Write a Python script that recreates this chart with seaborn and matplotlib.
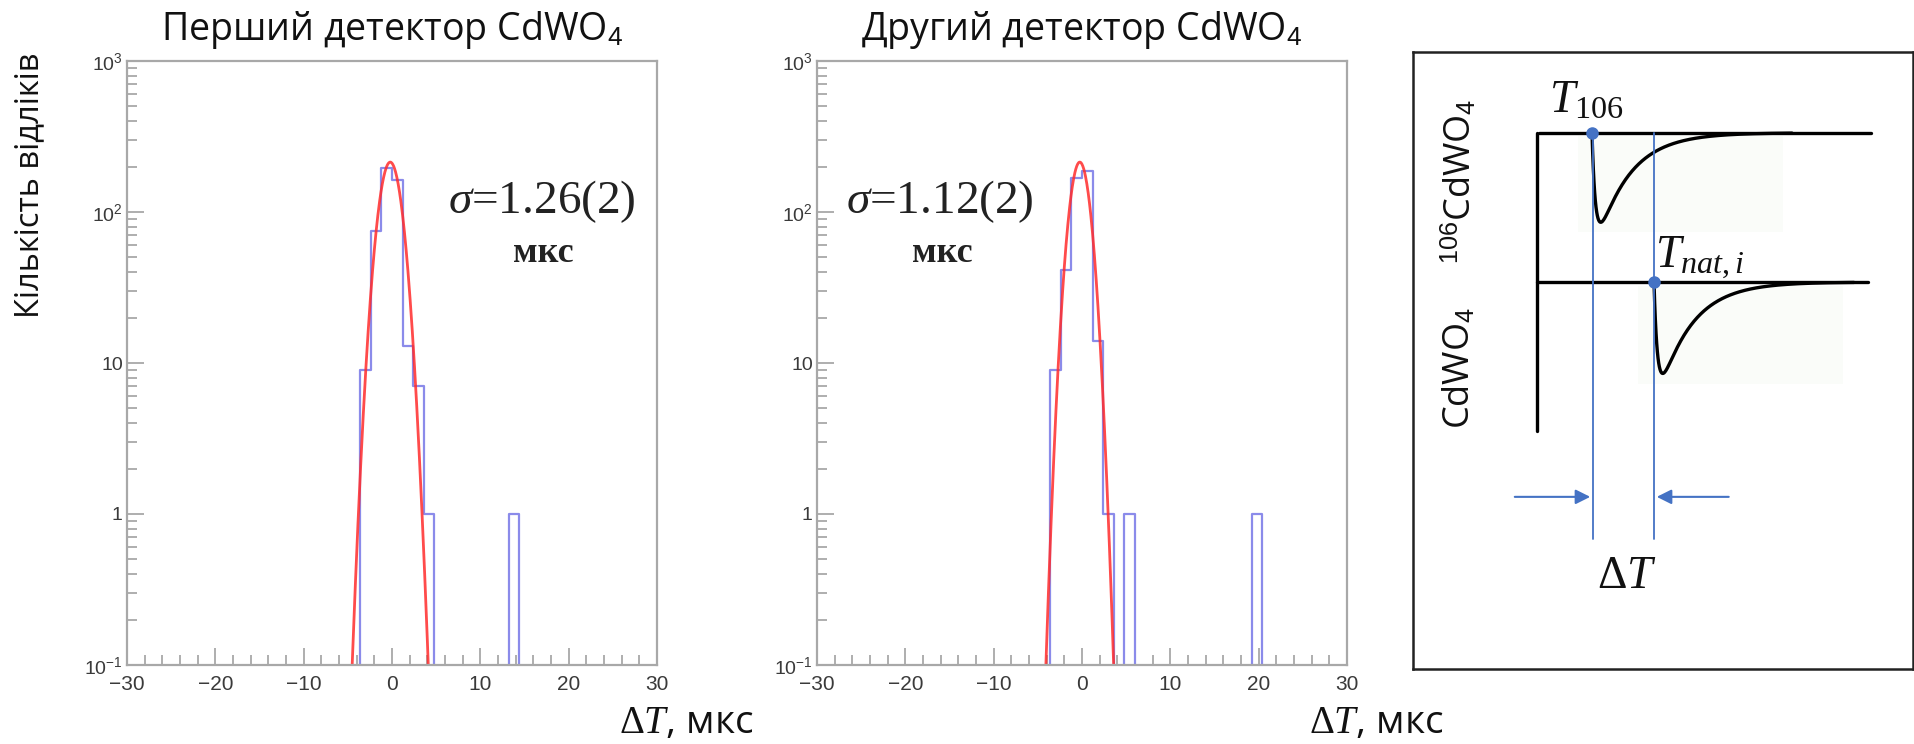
import numpy as np
import pandas as pd
import matplotlib
matplotlib.use("Agg")
import matplotlib.pyplot as plt
import seaborn as sns
from matplotlib.patches import Rectangle
from matplotlib.ticker import FixedLocator, NullFormatter, FixedFormatter

# ---------------- data ----------------
bin_width = 1.2
x_min, x_max = -30, 30
det1_bin_left = [-3.6, -2.4, -1.2, 0.0, 1.2, 2.4, 3.6, 13.2]
det1_counts = [9, 75, 195, 162, 13, 7, 1, 1]
det2_bin_left = [-3.6, -2.4, -1.2, 0.0, 1.2, 2.4, 4.8, 19.2]
det2_counts = [9, 41, 167, 187, 14, 1, 1, 1]
fit1_amp, fit1_mu, fit1_sigma = 214, -0.2, 1.1
fit2_amp, fit2_mu, fit2_sigma = 214, -0.25, 0.98
titles = ["Перший детектор CdWO$_\\mathsf{4}$", "Другий детектор CdWO$_\\mathsf{4}$"]
sigma_labels = ["$\\sigma$=1.26(2)", "$\\sigma$=1.12(2)"]
x_ticks = [-30, -20, -10, 0, 10, 20, 30]
y_ticks = [0.1, 1, 10, 100, 1000]
y_ticklabels = ["$\\mathsf{10^{-1}}$", "1", "10", "$\\mathsf{10^{2}}$", "$\\mathsf{10^{3}}$"]

# ---------------- style ----------------
sns.set_theme(style="white")
plt.rcParams["font.family"] = ["Open Sans", "DejaVu Sans"]
plt.rcParams["mathtext.fontset"] = "custom"
plt.rcParams["mathtext.rm"] = "Liberation Serif"
plt.rcParams["mathtext.it"] = "Liberation Serif:italic"
plt.rcParams["mathtext.bf"] = "Liberation Serif:bold"
plt.rcParams["mathtext.sf"] = "Liberation Sans"
plt.rcParams["axes.unicode_minus"] = True

W, H = 1915, 744
fig = plt.figure(figsize=(W / 100, H / 100), dpi=100)
fig.patch.set_facecolor("white")


def fx(x):
    return x / W


def fy(y):
    return 1 - y / H


FRAME = "#a8a8a8"
HIST = "#8b8bea"
FIT = "#ff2b2b"
TICKLAB = "#3a3a3a"

n_bins = int(round((x_max - x_min) / bin_width))

panels = [
    (127, det1_bin_left, det1_counts, (fit1_amp, fit1_mu, fit1_sigma), 542, 543),
    (817, det2_bin_left, det2_counts, (fit2_amp, fit2_mu, fit2_sigma), 940, 942),
]

for i, (x0, lefts, counts, fit, sx, mx) in enumerate(panels):
    ax = fig.add_axes([fx(x0), fy(665), 530 / W, 604 / H])
    df = pd.DataFrame({"x": np.array(lefts, dtype=float) + bin_width / 2,
                       "w": np.array(counts, dtype=float)})
    sns.histplot(data=df, x="x", weights="w", bins=n_bins, binrange=(x_min, x_max),
                 element="step", fill=False, color=HIST, linewidth=1.6, ax=ax)
    xs = np.linspace(-6, 6, 241)
    amp, mu, sg = fit
    ys = amp * np.exp(-0.5 * ((xs - mu) / sg) ** 2)
    sns.lineplot(x=xs, y=ys, color=FIT, linewidth=2.0, alpha=0.85, ax=ax)
    ax.set_yscale("log")
    ax.set_ylim(0.1, 1000)
    ax.set_xlim(x_min, x_max)
    ax.set_xlabel("")
    ax.set_ylabel("")
    for s in ax.spines.values():
        s.set_color(FRAME)
        s.set_linewidth(1.6)
        s.set_visible(True)
    ax.xaxis.set_major_locator(FixedLocator(x_ticks))
    ax.xaxis.set_minor_locator(FixedLocator(np.arange(x_min, x_max + 0.1, 2)))
    ax.yaxis.set_major_locator(FixedLocator(y_ticks))
    minors = [m * 10.0 ** e for e in range(-1, 3) for m in range(2, 10)]
    ax.yaxis.set_minor_locator(FixedLocator(minors))
    ax.yaxis.set_major_formatter(FixedFormatter(y_ticklabels))
    ax.yaxis.set_minor_formatter(NullFormatter())
    ax.tick_params(axis="both", which="both", direction="in", color=FRAME,
                   width=1.3, top=False, right=False, bottom=True, left=True)
    ax.tick_params(axis="both", which="major", length=12)
    ax.tick_params(axis="both", which="minor", length=7)
    ax.tick_params(axis="x", which="major", labelsize=15, labelcolor=TICKLAB, pad=7)
    ax.tick_params(axis="y", which="major", labelsize=14, labelcolor=TICKLAB, pad=3)
    for lab in ax.get_xticklabels() + ax.get_yticklabels():
        lab.set_fontfamily("Liberation Sans")
    ax.set_facecolor("white")

    fig.text(fx(x0 + 265), fy(30), titles[i], ha="center", va="center",
             fontsize=27, color="#111111")
    fig.text(fx(sx), fy(202), sigma_labels[i], ha="center", va="center",
             fontsize=34, color="#222222", family="Liberation Serif")
    fig.text(fx(mx), fy(254), "мкс", ha="center", va="center",
             fontsize=26, color="#222222", family="Liberation Serif", weight="bold")
    fig.text(fx(x0 + 492), fy(723), "$\\Delta T$, мкс", ha="left", va="center",
             fontsize=28, color="#111111")

fig.text(fx(30), fy(185), "Кількість відліків", rotation=90, ha="center", va="center",
         fontsize=23.5, color="#111111")

# ---------------- schematic panel ----------------
sch = fig.add_axes([fx(1413), fy(669), 500 / W, 617 / H])
sch.set_xlim(0, 1)
sch.set_ylim(1, 0)
sch.set_xticks([])
sch.set_yticks([])
for s in sch.spines.values():
    s.set_color("#222222")
    s.set_linewidth(1.8)
    s.set_visible(True)

BLUE = "#4472c4"
sch.add_patch(Rectangle((0.33, 0.136), 0.41, 0.156, color="#fafcf9", zorder=0, lw=0))
sch.add_patch(Rectangle((0.45, 0.379), 0.41, 0.159, color="#fafcf9", zorder=0, lw=0))

sch.plot([0.2515, 0.917], [0.131, 0.131], color="black", lw=2.4, zorder=2)
sch.plot([0.248, 0.248], [0.131, 0.615], color="black", lw=2.4, zorder=2)
sch.plot([0.248, 0.910], [0.373, 0.373], color="black", lw=2.4, zorder=2)


def pulse(t0, base, depth, span=0.4):
    t = np.linspace(0, span, 300)
    tr, td = 0.007, 0.065
    shape = np.exp(-t / td) - np.exp(-t / tr)
    shape = shape / shape.max()
    return t0 + t, base + depth * shape


px, py = pulse(0.358, 0.131, 0.145)
sch.plot(px, py, color="black", lw=2.4, zorder=3)
px, py = pulse(0.482, 0.373, 0.148)
sch.plot(px, py, color="black", lw=2.4, zorder=3)

for xv in [0.360, 0.482]:
    sch.plot([xv, xv], [0.131, 0.789], color=BLUE, lw=1.3, zorder=4)
sch.plot([0.358, 0.482], [0.131, 0.373], "o", color=BLUE, ms=8, zorder=5)

sch.annotate("", xy=(0.360, 0.721), xytext=(0.198, 0.721),
             arrowprops=dict(arrowstyle="-|>", color=BLUE, lw=1.5, mutation_scale=22))
sch.annotate("", xy=(0.482, 0.721), xytext=(0.637, 0.721),
             arrowprops=dict(arrowstyle="-|>", color=BLUE, lw=1.5, mutation_scale=22))

sch.text(0.428, 0.85, "$\\Delta T$", ha="center", va="center", fontsize=33, color="#111111")
sch.text(0.272, 0.098, "$T_{106}$", ha="left", va="baseline", fontsize=33, color="#111111")
sch.text(0.485, 0.35, "$T_{nat,i}$", ha="left", va="baseline", fontsize=33, color="#111111")
sch.text(0.095, 0.21, "$^{\\mathsf{106}}$CdWO$_{\\mathsf{4}}$", rotation=90, ha="center",
         va="center", fontsize=26, color="#111111")
sch.text(0.095, 0.512, "CdWO$_{\\mathsf{4}}$", rotation=90, ha="center", va="center",
         fontsize=26, color="#111111")

fig.savefig("out.png", dpi=100, facecolor="white")
